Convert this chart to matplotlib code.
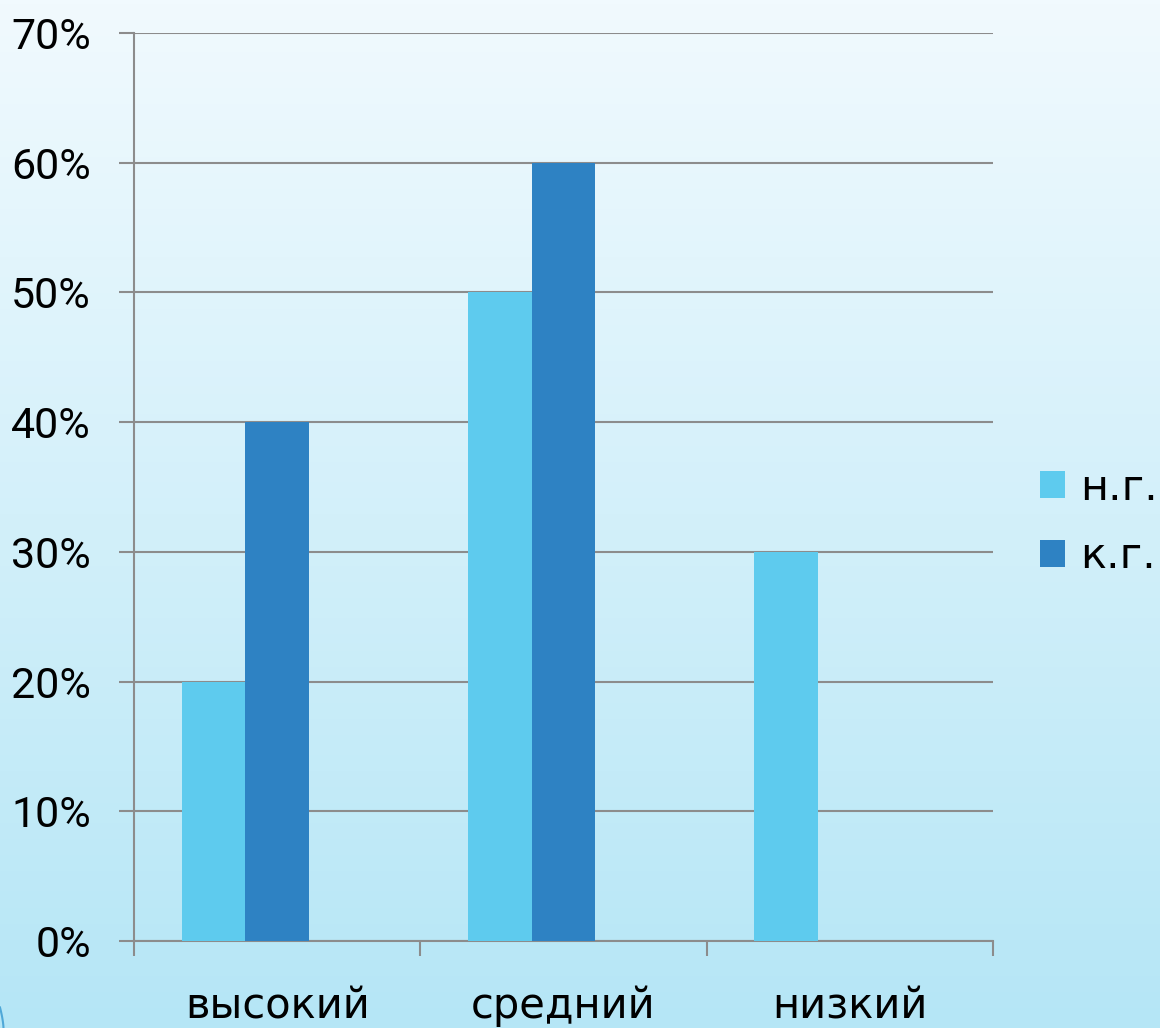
import numpy as np
import matplotlib
matplotlib.use("Agg")
import matplotlib.pyplot as plt
from matplotlib.colors import LinearSegmentedColormap

categories = ["высокий", "средний", "низкий"]
series_names = ["н.г.", "к.г."]
ng_values = [20, 50, 30]
kg_values = [40, 60, 0]
colors = ["#5ECBEE", "#2E82C3"]

plt.rcParams['font.family'] = ['DejaVu Sans']

fig = plt.figure(figsize=(11.6, 10.28), dpi=100)

# background gradient
bg = fig.add_axes([0, 0, 1, 1], zorder=-10)
cmap = LinearSegmentedColormap.from_list("bg", ["#B5E6F6", "#F1FAFE"])
grad = np.linspace(0, 1, 256).reshape(-1, 1)
bg.imshow(grad, aspect="auto", cmap=cmap, origin="lower", extent=[0, 1, 0, 1])
# thin decorative curve at bottom left corner
t = np.linspace(0, 1, 30)
bg.plot(0.003 - 0.003 * t**1.5, 0.02 * t, color="#4FA8D8", lw=1.5)
bg.set_xlim(0, 1)
bg.set_ylim(0, 1)
bg.axis("off")

ax = fig.add_axes([134 / 1160, 1 - 941 / 1028, (993 - 134) / 1160, (941 - 33) / 1028])
ax.patch.set_visible(False)

x = np.arange(len(categories))
w = 0.222
ax.bar(x - w, ng_values, width=w, color=colors[0], label=series_names[0], zorder=3)
ax.bar(x, kg_values, width=w, color=colors[1], label=series_names[1], zorder=3)

ax.set_xlim(-0.5, 2.5)
ax.set_ylim(0, 70)
ax.set_yticks(range(0, 71, 10))
ax.set_yticklabels([f"{v}%" for v in range(0, 71, 10)], family="Roboto", fontsize=31)
ax.yaxis.grid(True, color="#8C8C8C", lw=1.5, zorder=1)

ax.set_xticks([-0.5, 0.5, 1.5, 2.5])
ax.set_xticklabels([])
ax.set_xticks(x, minor=True)
ax.set_xticklabels(categories, minor=True, fontsize=30)
ax.tick_params(axis="x", which="minor", length=0, pad=32)
ax.tick_params(axis="x", which="major", length=11, width=1.5, color="#8C8C8C")
ax.tick_params(axis="y", length=11, width=1.5, color="#8C8C8C", pad=20)

for s in ["top", "right"]:
    ax.spines[s].set_visible(False)
for s in ["left", "bottom"]:
    ax.spines[s].set_color("#8C8C8C")
    ax.spines[s].set_linewidth(1.5)

leg = fig.legend(*ax.get_legend_handles_labels(), loc="center left",
                 bbox_to_anchor=(1040 / 1160, 1 - 522 / 1028), frameon=False,
                 fontsize=31, handlelength=0.58, handleheight=0.58,
                 handletextpad=0.35, labelspacing=0.62,
                 borderpad=0, borderaxespad=0)

fig.savefig("out.png", dpi=100)
